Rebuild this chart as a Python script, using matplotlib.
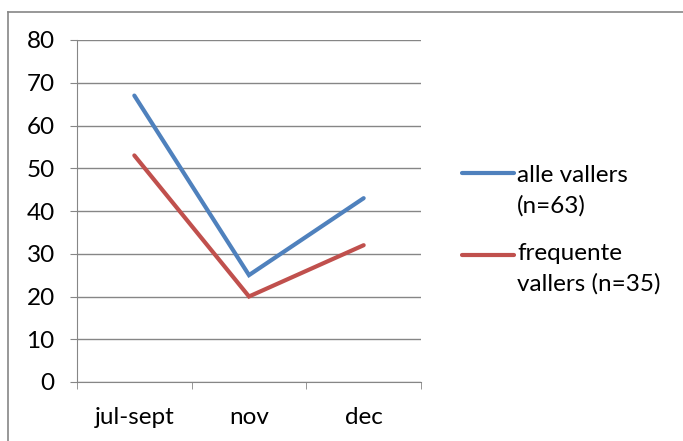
import matplotlib.pyplot as plt
from matplotlib.lines import Line2D

plt.rcParams['font.family'] = ['Lato', 'DejaVu Sans']

periods = ['jul-sept', 'nov', 'dec']
alle = [67, 25, 43]
frequente = [53, 20, 32]
labels = ['alle vallers\n(n=63)', 'frequente\nvallers (n=35)']

blue = '#4F81BD'
red = '#C0504D'
grid = '#868686'
fs = 17.5

fig = plt.figure(figsize=(6.83, 4.41), dpi=100)
ax = fig.add_axes([77 / 683, 59 / 441, 344 / 683, 342 / 441])

x = range(len(periods))
ax.plot(x, alle, color=blue, lw=3, solid_capstyle='round', solid_joinstyle='miter')
ax.plot(x, frequente, color=red, lw=3, solid_capstyle='round', solid_joinstyle='miter')

ax.set_xlim(-0.5, 2.5)
ax.set_ylim(0, 80)
ax.set_yticks(range(0, 81, 10))
ax.set_xticks(list(x))
ax.set_xticklabels(periods)
ax.set_xticks([-0.5, 0.5, 1.5, 2.5], minor=True)
ax.tick_params(axis='x', which='major', length=0, pad=18, labelsize=fs)
ax.tick_params(axis='x', which='minor', length=5, color=grid, direction='out')
ax.tick_params(axis='y', length=5, color=grid, pad=11, labelsize=fs)
ax.yaxis.grid(True, color=grid, lw=1)
ax.set_axisbelow(True)
for s in ['top', 'right']:
    ax.spines[s].set_visible(False)
for s in ['left', 'bottom']:
    ax.spines[s].set_color(grid)

# legend: handle beside the first line of each label
for (color, text, y_line, y_text) in [(blue, labels[0], 173, 191), (red, labels[1], 255, 269)]:
    yl = 1 - y_line / 441
    fig.add_artist(Line2D([462 / 683, 514 / 683], [yl, yl], color=color, lw=3,
                          solid_capstyle='round', transform=fig.transFigure))
    fig.text(517 / 683, 1 - y_text / 441, text, fontsize=fs, va='center', ha='left',
             linespacing=1.55)

# chart area border
fig.add_artist(Line2D([8 / 683, 8 / 683], [0, 1 - 12 / 441], color=grid, lw=1.2, transform=fig.transFigure))
fig.add_artist(Line2D([8 / 683, 1], [1 - 12 / 441, 1 - 12 / 441], color=grid, lw=1.2, transform=fig.transFigure))

fig.savefig('out.png', dpi=100)
